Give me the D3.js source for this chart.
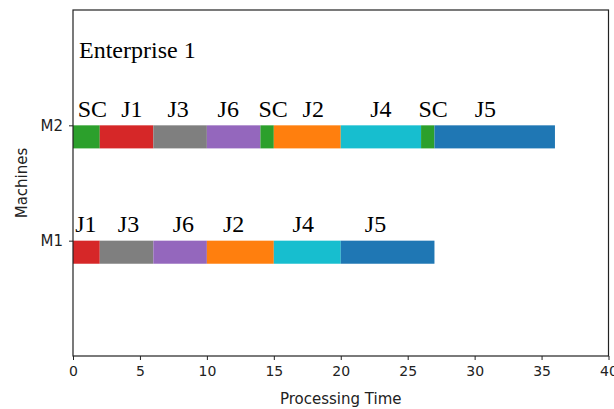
<!DOCTYPE html>
<html><head><meta charset="utf-8">
<script src="https://cdn.jsdelivr.net/npm/d3@7"></script>
<style>body{margin:0;background:#fff}svg{display:block}</style>
</head><body><svg id="c" width="614" height="409"></svg>
<script>
const machines = ["M1", "M2"];
const machineY = [10, 20];
const xTicks = [0, 5, 10, 15, 20, 25, 30, 35, 40];
const colors = {SC:"#2ca02c", J1:"#d62728", J2:"#ff7f0e", J3:"#7f7f7f", J4:"#17becf", J5:"#1f77b4", J6:"#9467bd"};
// M2 schedule
const m2Jobs = ["SC","J1","J3","J6","SC","J2","J4","SC","J5"];
const m2Start = [0, 2, 6, 10, 14, 15, 20, 26, 27];
const m2Dur =   [2, 4, 4, 4, 1, 5, 6, 1, 9];
const m2LabelX = [0.35, 3.6, 7.05, 10.8, 13.85, 17.15, 22.2, 25.8, 30];
// M1 schedule
const m1Jobs = ["J1","J3","J6","J2","J4","J5"];
const m1Start = [0, 2, 6, 10, 15, 20];
const m1Dur =   [2, 4, 4, 5, 5, 7];
const m1LabelX = [0.17, 3.35, 7.45, 11.2, 16.4, 21.8];
const title = "Enterprise 1";
const titlePos = [0.45, 25.85];

const svg = d3.select("#c");
const L = 73, R = 608.5, T = 10, B = 356;
const x = d3.scaleLinear().domain([0, 40]).range([L, R]);
const y = d3.scaleLinear().domain([0, 30]).range([B, T]);
const barH = 2, labelOff = 0.75;

function drawRow(jobs, starts, durs, labelXs, yv) {
  const g = svg.append("g");
  g.selectAll("rect").data(jobs.map((j,i)=>({j, s:starts[i], d:durs[i]}))).enter()
    .append("rect")
    .attr("x", d => x(d.s)).attr("width", d => x(d.s + d.d) - x(d.s))
    .attr("y", y(yv)).attr("height", y(yv - barH) - y(yv))
    .attr("fill", d => colors[d.j]);
  g.selectAll("text").data(jobs.map((j,i)=>({j, lx:labelXs[i]}))).enter()
    .append("text")
    .attr("x", d => x(d.lx)).attr("y", y(yv + labelOff))
    .attr("font-family", "Liberation Serif, Times New Roman, serif")
    .attr("font-size", 24).attr("fill", "#000")
    .text(d => d.j);
}
drawRow(m2Jobs, m2Start, m2Dur, m2LabelX, machineY[1]);
drawRow(m1Jobs, m1Start, m1Dur, m1LabelX, machineY[0]);

svg.append("text").attr("x", x(titlePos[0])).attr("y", y(titlePos[1]))
  .attr("font-family", "Liberation Serif, Times New Roman, serif")
  .attr("font-size", 24).attr("fill", "#000").text(title);

// axes
const xa = svg.append("g").attr("transform", `translate(0,${B})`)
  .call(d3.axisBottom(x).tickValues(xTicks).tickFormat(d3.format("d")).tickSize(4).tickPadding(6));
const ya = svg.append("g").attr("transform", `translate(${L},0)`)
  .call(d3.axisLeft(y).tickValues(machineY).tickFormat((d,i)=>machines[i]).tickSize(4).tickPadding(6));
[[xa, 14], [ya, 15]].forEach(([a, fs]) => {
  a.select(".domain").remove();
  a.selectAll("text").attr("font-family", "DejaVu Sans, sans-serif").attr("font-size", fs).attr("fill", "#222");
  a.selectAll("line").attr("stroke", "#222");
});
svg.append("rect").attr("x", L).attr("y", T).attr("width", R - L).attr("height", B - T)
  .attr("fill", "none").attr("stroke", "#222").attr("stroke-width", 1.2);

svg.append("text").attr("x", (L + R) / 2).attr("y", 404).attr("text-anchor", "middle")
  .attr("font-family", "DejaVu Sans, sans-serif").attr("font-size", 15).attr("fill", "#222")
  .text("Processing Time");
svg.append("text").attr("transform", `translate(27,${(T + B) / 2}) rotate(-90)`).attr("text-anchor", "middle")
  .attr("font-family", "DejaVu Sans, sans-serif").attr("font-size", 15).attr("fill", "#222")
  .text("Machines");
</script></body></html>
